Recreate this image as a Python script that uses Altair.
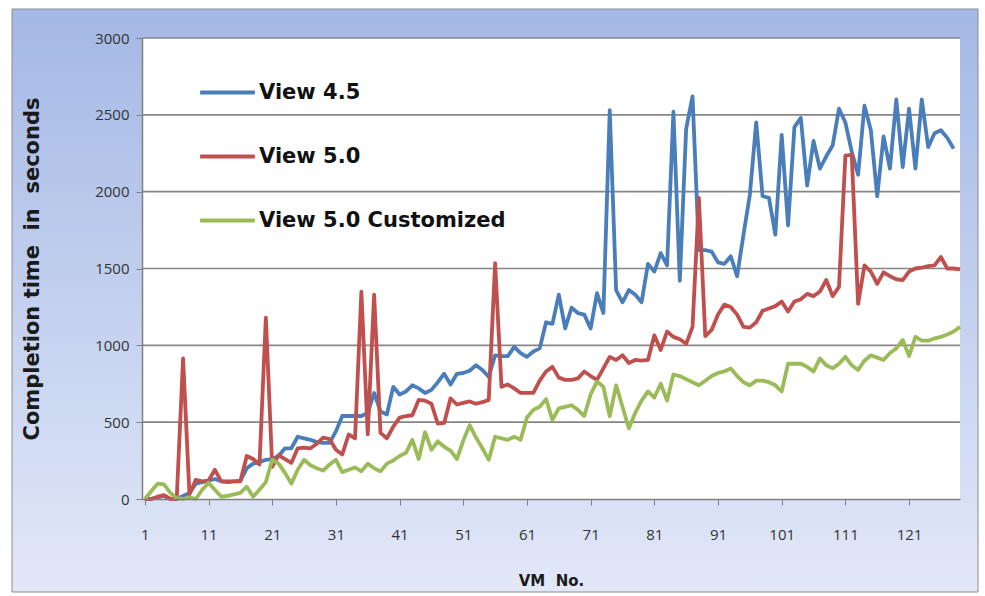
import altair as alt
import pandas as pd

# Series definitions
series_names = ["View 4.5", "View 5.0", "View 5.0 Customized"]
series_colors = ["#4a7ebb", "#c0504d", "#9bbb59"]

# Completion time (seconds) per VM, VM numbers start at 1
view45 = [
    0, 0, 10, 20, 0, 0, 20, 40, 100, 110,
    120, 130, 115, 110, 115, 120, 200, 230, 240, 255,
    260, 280, 330, 330, 405, 395, 385, 370, 365, 365,
    440, 540, 540, 540, 540, 560, 690, 570, 550, 730,
    680, 700, 740, 720, 690, 710, 760, 815, 745, 815,
    820, 835, 870, 840, 795, 935, 930, 930, 990, 950,
    925, 960, 980, 1150, 1140, 1330, 1110, 1245, 1210, 1200,
    1110, 1340, 1210, 2530, 1360, 1280, 1360, 1330, 1280, 1530,
    1480, 1600, 1520, 2520, 1420, 2410, 2620, 1620, 1620, 1610,
    1540, 1530, 1580, 1450, 1720, 1980, 2450, 1970, 1960, 1720,
    2370, 1780, 2420, 2480, 2040, 2330, 2150, 2230, 2300, 2540,
    2450, 2260, 2110, 2560, 2400, 1970, 2360, 2150, 2600, 2160,
    2540, 2150, 2600, 2290, 2380, 2400, 2350, 2280,
]
view50 = [
    0, 0, 15, 25, 0, 0, 915, 30, 125, 115,
    120, 190, 115, 115, 115, 115, 280, 260, 225, 1180,
    210, 285, 260, 235, 330, 335, 330, 360, 400, 390,
    320, 290, 420, 395, 1350, 420, 1330, 430, 395, 470,
    530, 540, 545, 645, 640, 620, 490, 495, 655, 615,
    625, 635, 620, 630, 645, 1535, 730, 745, 720, 690,
    690, 690, 770, 830, 860, 790, 775, 775, 785, 830,
    800, 775, 850, 925, 905, 935, 885, 905, 900, 905,
    1065, 970, 1090, 1055, 1040, 1010, 1120, 1960, 1060, 1100,
    1200, 1265, 1250, 1200, 1120, 1115, 1150, 1225, 1240, 1255,
    1285, 1220, 1285, 1300, 1335, 1320, 1350, 1425, 1320, 1380,
    2235, 2240, 1270, 1520, 1480, 1400, 1475, 1450, 1430, 1425,
    1480, 1500, 1505, 1515, 1520, 1575, 1500, 1500, 1495,
]
view50_custom = [
    0, 50, 100, 95, 40, 5, 0, 10, 0, 60,
    105, 60, 15, 20, 30, 40, 80, 15, 60, 110,
    255, 230, 170, 100, 190, 255, 220, 200, 185, 225,
    255, 175, 190, 205, 180, 230, 200, 180, 230, 250,
    280, 300, 385, 260, 435, 320, 375, 340, 315, 260,
    380, 480, 400, 330, 255, 405, 395, 385, 405, 385,
    530, 580, 600, 650, 515, 590, 600, 610, 580, 540,
    680, 765, 730, 540, 740, 600, 460, 560, 640, 700,
    660, 750, 640, 810, 800, 780, 760, 740, 770, 800,
    820, 830, 850, 800, 760, 740, 770, 770, 760, 740,
    700, 880, 880, 880, 860, 830, 915, 870, 850, 880,
    925, 870, 840, 900, 935, 920, 905, 950, 980, 1035,
    930, 1055, 1030, 1030, 1045, 1055, 1070, 1090, 1120,
]

y_ticks = [0, 500, 1000, 1500, 2000, 2500, 3000]
x_ticks = [1, 11, 21, 31, 41, 51, 61, 71, 81, 91, 101, 111, 121]

rows = []
for name, values in zip(series_names, [view45, view50, view50_custom]):
    for vm, t in enumerate(values, start=1):
        rows.append({"vm": vm, "time": t, "series": name})
df = pd.DataFrame(rows)

W, H = 818, 461
AXIS_GRAY = "#7f7f7f"

x_scale = alt.Scale(domain=[0.55, 129], nice=False, zero=False)
y_scale = alt.Scale(domain=[0, 3000], nice=False)

x_axis = alt.Axis(
    values=x_ticks, title="VM\u00a0\u00a0No.", grid=False,
    tickSize=6, tickColor=AXIS_GRAY, domainColor=AXIS_GRAY, domainWidth=1.5,
    labelFont="Open Sans", labelFontSize=15, labelColor="#333333",
    labelPadding=22, labelFlush=False, labelOverlap=False,
    titleFont="DejaVu Sans", titleFontSize=15, titleFontWeight="bold",
    titleColor="#1a1a1a", titleY=81, titleBaseline="middle", zindex=1,
)
y_axis = alt.Axis(
    values=y_ticks, format="d",
    title="Completion time\u00a0\u00a0in\u00a0\u00a0seconds", grid=False,
    tickSize=6, tickColor=AXIS_GRAY, domainColor=AXIS_GRAY, domainWidth=1.5,
    labelFont="Open Sans", labelFontSize=15, labelColor="#333333",
    labelPadding=7,
    titleFont="DejaVu Sans", titleFontSize=21, titleFontWeight="bold",
    titleColor="#1a1a1a", titleAngle=270, titleAlign="center",
    titleBaseline="middle", titleX=-110, titleY=H / 2, zindex=1,
)
y_enc = alt.Y("time:Q", scale=y_scale, axis=y_axis)

one_row = pd.DataFrame({"k": [0]})

# Outer frame with a soft blue gradient
frame = alt.Chart(one_row).mark_rect(
    fill=alt.LinearGradient(
        gradient="linear", x1=0, y1=0, x2=0, y2=1,
        stops=[
            alt.GradientStop(offset=0, color="#a4b8e5"),
            alt.GradientStop(offset=1, color="#e2e8f8"),
        ],
    ),
    stroke="#8c8c8c", strokeWidth=1,
).encode(x=alt.value(-130), x2=alt.value(W + 18), y=alt.value(-29), y2=alt.value(H + 93))

# White plot area
plot_bg = alt.Chart(one_row).mark_rect(fill="white").encode(
    x=alt.value(0), x2=alt.value(W), y=alt.value(0), y2=alt.value(H)
)

# Horizontal gridlines
grid = alt.Chart(pd.DataFrame({"time": y_ticks[1:]})).mark_rule(
    color="#868686", strokeWidth=1.6
).encode(y=y_enc)

lines = alt.Chart(df).mark_line(strokeWidth=3.8, strokeJoin="round").encode(
    x=alt.X("vm:Q", scale=x_scale, axis=x_axis),
    y=y_enc,
    color=alt.Color(
        "series:N",
        scale=alt.Scale(domain=series_names, range=series_colors),
        legend=alt.Legend(
            title=None, orient="none", legendX=56, legendY=25,
            direction="vertical", symbolType="stroke", symbolSize=3000,
            symbolStrokeWidth=4, labelFont="DejaVu Sans", labelFontWeight="bold",
            labelFontSize=21, labelColor="#111111", rowPadding=24, padding=0,
            labelLimit=400, labelOffset=2, zindex=1,
        ),
    ),
)

chart = alt.layer(frame, plot_bg, grid, lines).properties(
    width=W, height=H,
    padding={"left": 142, "top": 38, "right": 25, "bottom": 97},
    autosize=alt.AutoSizeParams(type="none"),
    background="white",
).configure_view(stroke=None)

chart.save("out.html", embed_options={"renderer": "svg", "actions": False})
